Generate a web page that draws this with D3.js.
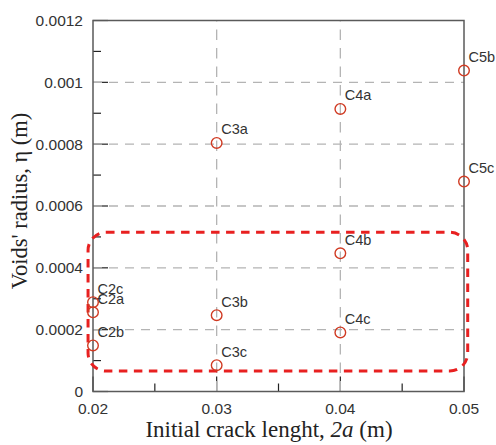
<!DOCTYPE html>
<html><head><meta charset="utf-8">
<script src="https://cdn.jsdelivr.net/npm/d3@7"></script>
<style>body{margin:0;background:#fff}svg{display:block}</style>
</head><body><svg id="c" width="496" height="445"></svg>
<script>
const names = ["C2a","C2b","C2c","C3a","C3b","C3c","C4a","C4b","C4c","C5b","C5c"];
const crackLength = [0.02,0.02,0.02,0.03,0.03,0.03,0.04,0.04,0.04,0.05,0.05];
const voidRadius = [0.000256,0.000149,0.000289,0.000804,0.000247,0.000085,0.000914,0.000447,0.000191,0.001038,0.000679];
const xTicks = [0.02,0.03,0.04,0.05];
const xTickLabels = ["0.02","0.03","0.04","0.05"];
const xMinor = [0.025,0.035,0.045];
const yTicks = [0,0.0002,0.0004,0.0006,0.0008,0.001,0.0012];
const yTickLabels = ["0","0.0002","0.0004","0.0006","0.0008","0.001","0.0012"];
const yMinor = [0.0001,0.0003,0.0005,0.0007,0.0009,0.0011];
const highlightX = [0.0196,0.0503];
const highlightY = [0.000066,0.000515];

const m = {l:93, t:20.5, r:32, b:53.5};
const W = 496, H = 445;
const x = d3.scaleLinear().domain([0.02,0.05]).range([m.l, W-m.r]);
const y = d3.scaleLinear().domain([0,0.0012]).range([H-m.b, m.t]);
const svg = d3.select("#c");
const x0 = x.range()[0], x1 = x.range()[1], y0 = y.range()[0], y1 = y.range()[1];

// ticks (inward)
const tk = svg.append("g").attr("stroke","#222").attr("stroke-width",1.2);
yTicks.forEach(v=>tk.append("line").attr("x1",x0).attr("x2",x0+15).attr("y1",y(v)).attr("y2",y(v)));
yMinor.forEach(v=>tk.append("line").attr("x1",x0).attr("x2",x0+8).attr("y1",y(v)).attr("y2",y(v)));
xTicks.forEach(v=>tk.append("line").attr("x1",x(v)).attr("x2",x(v)).attr("y1",y0).attr("y2",y0-15));
xMinor.forEach(v=>tk.append("line").attr("x1",x(v)).attr("x2",x(v)).attr("y1",y0).attr("y2",y0-8));

// grid
const g = svg.append("g").attr("stroke","#b4b4b4").attr("stroke-width",1.3);
yTicks.filter(v=>v>0 && v<0.0012).forEach(v=>g.append("line")
  .attr("x1",x0).attr("x2",x1).attr("y1",y(v)).attr("y2",y(v)).attr("stroke-dasharray","9,7"));
xTicks.filter(v=>v>0.02 && v<0.05).forEach(v=>g.append("line")
  .attr("x1",x(v)).attr("x2",x(v)).attr("y1",y0).attr("y2",y1).attr("stroke-dasharray","10.5,8"));

// frame
svg.append("rect").attr("x",x0).attr("y",y1).attr("width",x1-x0).attr("height",y0-y1)
  .attr("fill","none").attr("stroke","#5a5a5a").attr("stroke-width",1.5);

// axis tick labels
const tf = "'Liberation Sans', Arial, sans-serif";
svg.append("g").selectAll("text").data(yTicks).join("text")
  .attr("x",x0-10).attr("y",d=>y(d)).attr("dy","0.35em").attr("text-anchor","end")
  .attr("font-family",tf).attr("font-size",15.5).attr("fill","#333")
  .text((d,i)=>yTickLabels[i]);
svg.append("g").selectAll("text").data(xTicks).join("text")
  .attr("x",d=>x(d)).attr("y",y0+22).attr("text-anchor","middle")
  .attr("font-family",tf).attr("font-size",15.5).attr("fill","#333")
  .text((d,i)=>xTickLabels[i]);

// highlight box
svg.append("rect")
  .attr("x",x(highlightX[0])).attr("y",y(highlightY[1]))
  .attr("width",x(highlightX[1])-x(highlightX[0])).attr("height",y(highlightY[0])-y(highlightY[1]))
  .attr("rx",18).attr("ry",18)
  .attr("fill","none").attr("stroke","#e82020").attr("stroke-width",3).attr("stroke-dasharray","8.5,6.5");

// points
const pts = names.map((n,i)=>({n, x:crackLength[i], y:voidRadius[i]}));
svg.append("g").selectAll("circle").data(pts).join("circle")
  .attr("cx",d=>x(d.x)).attr("cy",d=>y(d.y)).attr("r",5.3)
  .attr("fill","none").attr("stroke","#d03a22").attr("stroke-width",1.4);
svg.append("g").selectAll("text").data(pts).join("text")
  .attr("x",d=>x(d.x)+4.5).attr("y",d=>y(d.y)-8.5)
  .attr("font-family",tf).attr("font-size",14.5).attr("fill","#333")
  .text(d=>d.n);

// axis titles
const sf = "'Liberation Serif', 'Times New Roman', serif";
const xt = svg.append("text").attr("x",269).attr("y",437).attr("text-anchor","middle")
  .attr("font-family",sf).attr("font-size",23).attr("fill","#222");
xt.append("tspan").text("Initial crack lenght, ");
xt.append("tspan").attr("font-style","italic").text("2a");
xt.append("tspan").text(" (m)");
svg.append("text").attr("transform","translate(27,201) rotate(-90)").attr("text-anchor","middle")
  .attr("font-family",sf).attr("font-size",22.5).attr("fill","#222")
  .text("Voids' radius, η (m)");
</script></body></html>
